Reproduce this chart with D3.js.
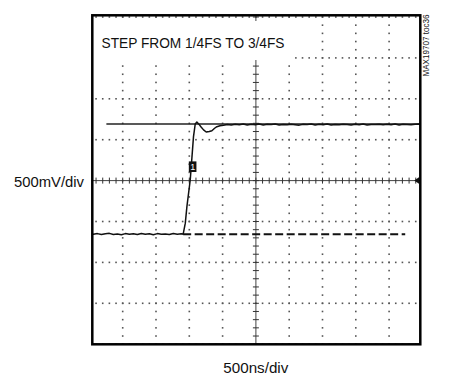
<!DOCTYPE html>
<html>
<head>
<meta charset="utf-8">
<script src="https://cdn.jsdelivr.net/npm/d3@7"></script>
<style>
html,body{margin:0;padding:0;background:#fff;}
svg{display:block;}
text{font-family:"Liberation Sans Narrow","Arial Narrow","Liberation Sans",sans-serif;fill:#111;}
</style>
</head>
<body>
<svg id="chart" width="451" height="379"></svg>
<script>
// ---- data ----
const title = "STEP FROM 1/4FS TO 3/4FS";
const yLabel = "500mV/div";
const xLabel = "500ns/div";
const sideNote = "MAX19707 toc36";
// time in ns, voltage in V (centre of screen = 0)
const sigT = [-2500,-2440,-2380,-2320,-2260,-2200,-2140,-2080,-2020,-1960,-1900,-1840,-1780,-1720,-1660,-1600,-1540,-1480,-1420,-1360,-1300,-1240,-1180,-1120,-1092,-1060,-1036,-986,-937,-911,-886,-856,-826,-786,-746,-700,-661,-620,-586,-540,-486,-430,-370,-310,-250,-190,-130,-70,-10,50,110,170,230,290,350,410,470,530,590,650,710,770,830,890,950,1010,1070,1130,1190,1250,1310,1370,1430,1490,1550,1610,1670,1730,1790,1850,1910,1970,2030,2090,2150,2210,2270,2330,2390,2450,2500];
const sigV = [-0.640,-0.655,-0.648,-0.660,-0.650,-0.645,-0.658,-0.652,-0.662,-0.648,-0.655,-0.650,-0.660,-0.646,-0.656,-0.650,-0.661,-0.648,-0.655,-0.652,-0.660,-0.647,-0.657,-0.651,-0.655,-0.520,-0.319,0.007,0.537,0.692,0.716,0.690,0.659,0.620,0.594,0.600,0.610,0.640,0.659,0.670,0.676,0.686,0.680,0.690,0.684,0.692,0.679,0.688,0.683,0.691,0.680,0.688,0.685,0.693,0.679,0.687,0.682,0.690,0.684,0.678,0.690,0.685,0.692,0.681,0.688,0.684,0.691,0.680,0.687,0.683,0.690,0.686,0.679,0.689,0.684,0.692,0.681,0.687,0.685,0.690,0.682,0.688,0.684,0.691,0.680,0.688,0.686,0.683,0.690,0.692,0.688];
const refHighT = [-2245, 2500];
const refHighV = [0.692, 0.692];
const refLowT = [-1092, 2242];
const refLowV = [-0.655, -0.655];
const markerT = -950;   // channel "1" marker
const markerV = 0.17;

// ---- layout ----
const svg = d3.select("#chart");
const divX = 10, divY = 8, sub = 5;
const x = d3.scaleLinear().domain([-2500, 2500]).range([89.4, 422.4]);
const y = d3.scaleLinear().domain([-2, 2]).range([344.2, 17.0]);
const frame = {x0: 92.3, x1: 420.3, y0: 15.3, y1: 344.3};

svg.append("defs").append("clipPath").attr("id","clip")
  .append("rect").attr("x",frame.x0).attr("y",frame.y0)
  .attr("width",frame.x1-frame.x0).attr("height",frame.y1-frame.y0);

const g = svg.append("g").attr("clip-path","url(#clip)");

const xDivs = d3.range(0, divX+1).map(i => -2500 + i*500);
const yDivs = d3.range(0, divY+1).map(i => -2 + i*0.5);
const xSubs = d3.range(0, divX*sub+1).map(i => -2500 + i*100);
const ySubs = d3.range(0, divY*sub+1).map(i => -2 + i*0.1);

// dotted grid
const dots = [];
yDivs.forEach(v => { if (v !== 0) xSubs.forEach(t => dots.push([t, v])); });
xDivs.forEach(t => { if (t !== 0) ySubs.forEach(v => dots.push([t, v])); });
g.selectAll("rect.dot").data(dots).join("rect").attr("class","dot")
  .attr("x", d => x(d[0]) - 0.8).attr("y", d => y(d[1]) - 0.8)
  .attr("width", 1.6).attr("height", 1.6).attr("fill", "#555");

// centre axes with ticks
g.append("line").attr("x1", x(-2500)).attr("x2", x(2500)).attr("y1", y(0)).attr("y2", y(0))
  .attr("stroke","#444").attr("stroke-width",1);
g.append("line").attr("x1", x(0)).attr("x2", x(0)).attr("y1", y(-2)).attr("y2", y(2))
  .attr("stroke","#444").attr("stroke-width",1);
g.selectAll("line.tx").data(xSubs).join("line").attr("class","tx")
  .attr("x1", d => x(d)).attr("x2", d => x(d)).attr("y1", y(0)-3).attr("y2", y(0)+3)
  .attr("stroke","#333").attr("stroke-width",1);
g.selectAll("line.ty").data(ySubs).join("line").attr("class","ty")
  .attr("y1", d => y(d)).attr("y2", d => y(d)).attr("x1", x(0)-3).attr("x2", x(0)+3)
  .attr("stroke","#333").attr("stroke-width",1);

// white patch behind title (covers grid as in original)
g.append("rect").attr("x", 95).attr("y", 21).attr("width", 195).attr("height", 39).attr("fill", "#fff");

// reference lines
const line = d3.line().x(d => x(d[0])).y(d => y(d[1]));
g.append("path").attr("d", line(d3.zip(refHighT, refHighV)))
  .attr("fill","none").attr("stroke","#222").attr("stroke-width",1.3);
g.append("path").attr("d", line(d3.zip(refLowT, refLowV)))
  .attr("fill","none").attr("stroke","#111").attr("stroke-width",2).attr("stroke-dasharray","8,3.5");

// signal
g.append("path").attr("d", line(d3.zip(sigT, sigV)))
  .attr("fill","none").attr("stroke","#111").attr("stroke-width",1.5).attr("stroke-linejoin","round");

// channel marker
const mg = svg.append("g").attr("transform", `translate(${x(markerT)},${y(markerV)})`);
mg.append("rect").attr("x",-3.8).attr("y",-5.3).attr("width",7.6).attr("height",10.6).attr("fill","#111");
mg.append("text").attr("x",0).attr("y",3.5).attr("text-anchor","middle").attr("font-size",9)
  .style("fill","#fff").text("1");

// right ground marker
svg.append("path")
  .attr("d", `M${frame.x1-1},${y(0)-3.5} L${frame.x1-6},${y(0)} L${frame.x1-1},${y(0)+3.5} Z`)
  .attr("fill","#111");

// frame
svg.append("rect").attr("x",frame.x0).attr("y",frame.y0)
  .attr("width",frame.x1-frame.x0).attr("height",frame.y1-frame.y0)
  .attr("fill","none").attr("stroke","#000").attr("stroke-width",2.5);

// texts (condensed face emulated via textLength)
function narrow(sel, len) {
  return sel.attr("textLength", len).attr("lengthAdjust", "spacingAndGlyphs");
}
narrow(svg.append("text").attr("x",101.5).attr("y",48.3).attr("font-size",14.6).text(title), 183);
narrow(svg.append("text").attr("x",14).attr("y",186.7).attr("font-size",14.6).text(yLabel), 70);
narrow(svg.append("text").attr("x",223.3).attr("y",373.3).attr("font-size",14.6).text(xLabel), 65);
narrow(svg.append("text").attr("transform","translate(428.5,76.5) rotate(-90)")
  .attr("font-size",8.4).text(sideNote), 62);
</script>
</body>
</html>
